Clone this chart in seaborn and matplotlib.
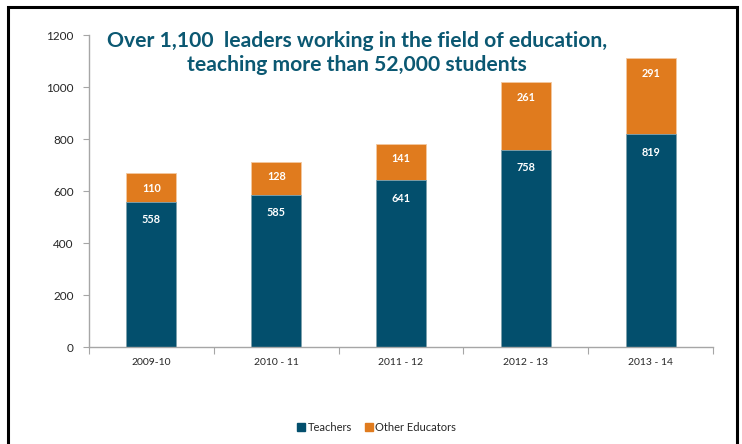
import matplotlib
matplotlib.use("Agg")
import matplotlib.pyplot as plt
import seaborn as sns
import pandas as pd
import numpy as np
from matplotlib.patches import Rectangle
from matplotlib.lines import Line2D

years = ["2009-10", "2010 - 11", "2011 - 12", "2012 - 13", "2013 - 14"]
teachers = [558, 585, 641, 758, 819]
other = [110, 128, 141, 261, 291]
yticks = [0, 200, 400, 600, 800, 1000, 1200]
title_lines = ["Over 1,100  leaders working in the field of education,",
               "teaching more than 52,000 students"]

TEAL = "#034F6D"
ORANGE = "#E07B1E"
TITLE_C = "#0B5872"
GRID_C = "#A6A6A6"
FONT = ["Lato", "DejaVu Sans"]

sns.set_theme(style="white")
plt.rcParams["font.family"] = FONT

df = pd.DataFrame({"year": years, "teachers": teachers, "other": other})
df["total"] = df["teachers"] + df["other"]

fig = plt.figure(figsize=(7.42, 4.44), dpi=100)
W, H = 742, 444
ax = fig.add_axes([89 / W, 1 - 347 / H, (713 - 89) / W, (347 - 35) / H])

sns.barplot(data=df, x="year", y="total", color=ORANGE, saturation=1, width=0.4,
            ax=ax, edgecolor="#F3C8A0", linewidth=0.6)
sns.barplot(data=df, x="year", y="teachers", color=TEAL, saturation=1, width=0.4,
            ax=ax, edgecolor="#7FA6B6", linewidth=0.6)

ax.set_xlim(-0.5, 4.5)
ax.set_ylim(0, 1200)
ax.set_yticks(yticks)
ax.set_yticklabels([str(v) for v in yticks])
ax.set_xlabel("")
ax.set_ylabel("")
for s in ["top", "right"]:
    ax.spines[s].set_visible(False)
for s in ["left", "bottom"]:
    ax.spines[s].set_color(GRID_C)
    ax.spines[s].set_linewidth(1.0)

ax.tick_params(axis="y", which="major", left=True, length=4, width=0.8, color=GRID_C,
               labelsize=8.5, labelcolor="#262626", pad=7)
ax.tick_params(axis="x", which="major", bottom=False, length=0, labelsize=7.5,
               labelcolor="#262626", pad=8)
ax.set_xticks(np.arange(-0.5, 4.6, 1), minor=True)
ax.tick_params(axis="x", which="minor", bottom=True, length=5, width=0.8, color=GRID_C)
for lab in ax.get_yticklabels() + ax.get_xticklabels():
    lab.set_family(FONT)

for i, (t, o) in enumerate(zip(teachers, other)):
    ax.annotate(str(t), (i, t), xytext=(0, -13), textcoords="offset points",
                ha="center", va="center", color="white", fontsize=7.8,
                fontweight="bold", family=FONT)
    ax.annotate(str(o), (i, t + o), xytext=(0, -11), textcoords="offset points",
                ha="center", va="center", color="white", fontsize=7.8,
                fontweight="bold", family=FONT)

fig.text(357 / W, 1 - 41 / H, title_lines[0], ha="center", va="center",
         color=TITLE_C, fontsize=15.2, fontweight="bold", family=FONT)
fig.text(357 / W, 1 - 65 / H, title_lines[1], ha="center", va="center",
         color=TITLE_C, fontsize=15.2, fontweight="bold", family=FONT)

handles = [Line2D([], [], marker="s", linestyle="", color=TEAL, markersize=6),
           Line2D([], [], marker="s", linestyle="", color=ORANGE, markersize=6)]
fig.legend(handles, ["Teachers", "Other Educators"], loc="center",
           bbox_to_anchor=(376 / W, 1 - 427 / H), ncol=2, frameon=False,
           fontsize=8, handletextpad=0.1, columnspacing=1.0, handlelength=1.0)

fig.patches.append(Rectangle((8 / W, -0.05), (737 - 8) / W, 1.05 - 7 / H,
                             transform=fig.transFigure, fill=False,
                             edgecolor="black", linewidth=2.2, zorder=10))

fig.savefig("out.png", dpi=100)
